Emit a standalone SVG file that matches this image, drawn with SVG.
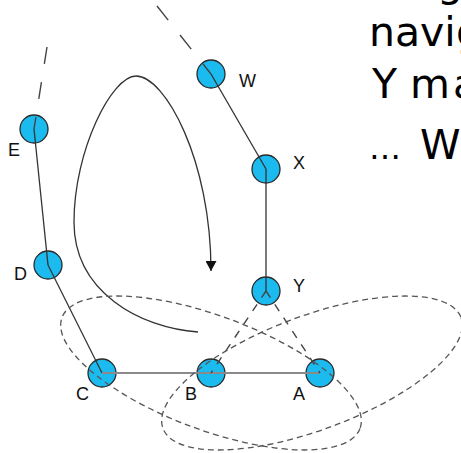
<svg xmlns="http://www.w3.org/2000/svg" width="461" height="453" viewBox="0 0 461 453">
<style>
.node circle{fill:#1BBBF0;stroke:#2a2a2a;stroke-width:1.3}
.lbl{font-family:"Liberation Sans",Arial,sans-serif;font-size:18px;fill:#111}
.edge{stroke:#333;stroke-width:1.3;fill:none}
.base{stroke:#8a8a8a;stroke-width:1.8;fill:none}
.dsh{stroke:#444;stroke-width:1.4;fill:none}
.ell{fill:none;stroke:#555;stroke-width:1.3;stroke-dasharray:6 4}
.big{font-family:"DejaVu Sans",Verdana,sans-serif;font-size:41px;fill:#000}
</style>
<defs>
<marker id="ah" viewBox="0 0 10 11" refX="10" refY="5.5" markerWidth="10" markerHeight="11" markerUnits="userSpaceOnUse" orient="auto">
<path d="M0,0 L10,5.5 L0,11 z" fill="#111"/>
</marker>
</defs>

<g id="text">
<text class="big" x="437" y="-4">g</text>
<text class="big" x="369" y="45.5">navi<tspan x="456">g</tspan></text>
<text class="big" x="372" y="98">Y m<tspan x="453">a</tspan></text>
<text class="big" x="369" y="159"><tspan font-size="32">…</tspan><tspan x="420">W</tspan></text>
</g>

<g id="node-W" class="node"><circle cx="211" cy="74" r="14"/><text class="lbl" x="239" y="87">W</text></g>
<g id="node-X" class="node"><circle cx="266" cy="169" r="14"/><text class="lbl" x="293" y="169">X</text></g>
<g id="node-E" class="node"><circle cx="34" cy="129" r="14"/><text class="lbl" x="8" y="156">E</text></g>
<g id="node-D" class="node"><circle cx="48" cy="265" r="14"/><text class="lbl" x="14" y="280">D</text></g>
<g id="node-Y" class="node"><circle cx="266" cy="291" r="14"/><text class="lbl" x="293" y="292">Y</text></g>
<g id="node-C" class="node"><circle cx="102" cy="373" r="14"/><text class="lbl" x="76" y="400">C</text></g>
<g id="node-B" class="node"><circle cx="211" cy="373" r="14"/><text class="lbl" x="185" y="400">B</text></g>
<g id="node-A" class="node"><circle cx="320" cy="373" r="14"/><text class="lbl" x="293" y="400">A</text></g>

<g id="connectors">
<line class="dsh" x1="157" y1="6" x2="211" y2="74" stroke-dasharray="18 19"/>
<line class="dsh" x1="47" y1="47" x2="34" y2="129" stroke-dasharray="17 18.5"/>
<line class="edge" x1="211" y1="74" x2="266" y2="169"/>
<line class="edge" x1="266" y1="169" x2="266" y2="291"/>
<line class="edge" x1="34" y1="129" x2="48" y2="265"/>
<line class="edge" x1="48" y1="265" x2="102" y2="373"/>
<line class="base" x1="102" y1="373" x2="320" y2="373"/>
<line class="dsh" x1="266" y1="291" x2="211" y2="373" stroke-dasharray="8 8"/>
<line class="dsh" x1="266" y1="291" x2="320" y2="373" stroke-dasharray="8 8"/>
<path class="edge" d="M198,332 C140,328 74,292 74,222 C74,150 112,76 136,76 C165,76 211,160 211,271" stroke="#222" marker-end="url(#ah)"/>
<ellipse class="ell" cx="211" cy="373" rx="159" ry="57" transform="rotate(20.4 211 373)"/>
<ellipse class="ell" cx="312" cy="373" rx="159" ry="57" transform="rotate(-20.4 312 373)"/>
</g>
</svg>
